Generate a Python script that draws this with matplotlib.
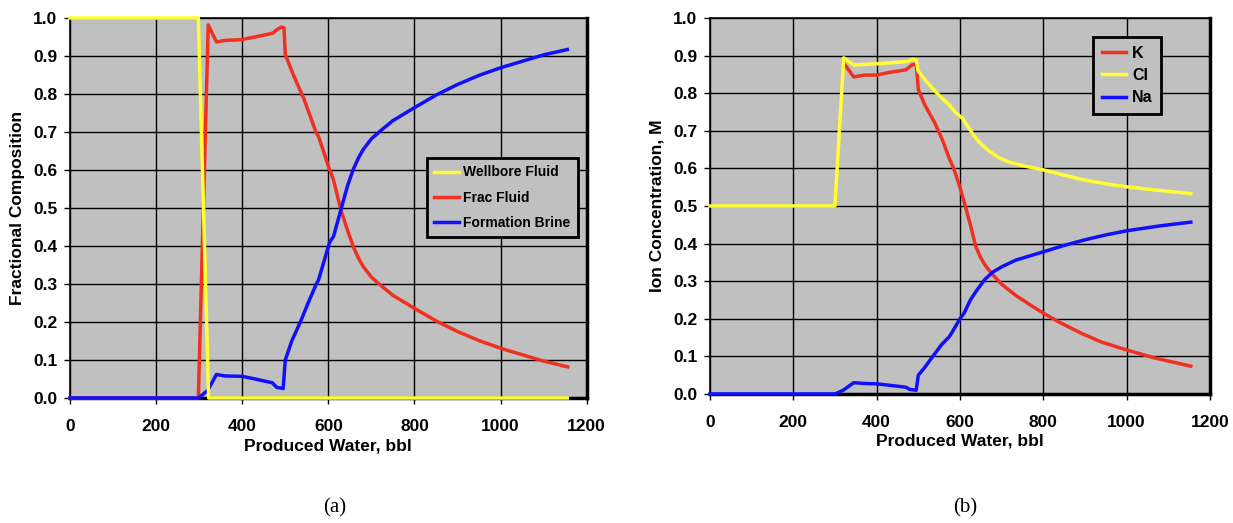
import matplotlib.pyplot as plt

plt.rcParams['font.family'] = ['Liberation Sans', 'DejaVu Sans']

# (a) fractional composition vs produced water
wb_x = [0, 298, 322, 1155]
wb_y = [1.0, 1.0, 0.0, 0.0]

frac_x = [0, 298, 321, 340, 360, 397, 430, 471, 480, 491, 497, 500, 517, 544, 572, 577,
          590, 600, 612, 629, 645, 658, 670, 681, 700, 720, 750, 800, 850, 900, 950, 1000,
          1050, 1100, 1156]
frac_y = [0.0, 0.0, 0.982, 0.937, 0.941, 0.943, 0.950, 0.960, 0.969, 0.976, 0.974, 0.904, 0.855,
          0.785, 0.697, 0.689, 0.645, 0.610, 0.574, 0.495, 0.440, 0.398, 0.368, 0.346, 0.318,
          0.298, 0.270, 0.236, 0.203, 0.175, 0.151, 0.131, 0.114, 0.097, 0.082]

brine_x = [0, 298, 320, 340, 360, 400, 430, 470, 480, 495, 500, 515, 535, 553, 572, 577,
           590, 603, 612, 629, 645, 658, 670, 681, 700, 720, 750, 800, 850, 900, 950, 1000,
           1050, 1100, 1155]
brine_y = [0.0, 0.0, 0.02, 0.062, 0.058, 0.057, 0.050, 0.040, 0.028, 0.025, 0.100, 0.150, 0.200,
           0.250, 0.300, 0.310, 0.360, 0.410, 0.425, 0.495, 0.560, 0.602, 0.632, 0.654, 0.682,
           0.702, 0.730, 0.764, 0.797, 0.825, 0.849, 0.869, 0.886, 0.903, 0.917]

# (b) ion concentrations
cl_x = [0, 300, 321, 345, 400, 450, 473, 485, 495, 500, 520, 545, 565, 574, 590, 606, 615,
        630, 642, 655, 670, 694, 720, 760, 800, 850, 894, 950, 1000, 1080, 1154]
cl_y = [0.5, 0.5, 0.894, 0.875, 0.878, 0.882, 0.884, 0.890, 0.888, 0.858, 0.830, 0.800, 0.778,
        0.769, 0.748, 0.733, 0.718, 0.693, 0.675, 0.660, 0.646, 0.628, 0.616, 0.605, 0.596,
        0.582, 0.570, 0.559, 0.551, 0.541, 0.533]

k_x = [321, 345, 370, 400, 430, 470, 485, 495, 500, 515, 540, 560, 574, 585, 600, 610,
       625, 638, 650, 662, 678, 700, 734, 770, 800, 840, 894, 940, 1000, 1070, 1154]
k_y = [0.880, 0.843, 0.848, 0.848, 0.855, 0.862, 0.875, 0.878, 0.810, 0.770, 0.720, 0.670,
       0.627, 0.600, 0.550, 0.511, 0.450, 0.392, 0.362, 0.340, 0.318, 0.292, 0.262, 0.236,
       0.215, 0.190, 0.160, 0.138, 0.117, 0.095, 0.074]

na_x = [0, 300, 320, 345, 370, 400, 440, 470, 480, 495, 500, 515, 535, 555, 574, 580, 600,
        610, 625, 640, 660, 680, 700, 734, 770, 800, 850, 900, 950, 1000, 1080, 1154]
na_y = [0.0, 0.0, 0.010, 0.030, 0.028, 0.027, 0.022, 0.018, 0.012, 0.010, 0.050, 0.070, 0.100,
        0.130, 0.152, 0.162, 0.200, 0.215, 0.250, 0.275, 0.305, 0.325, 0.338, 0.356, 0.368,
        0.378, 0.395, 0.410, 0.423, 0.434, 0.447, 0.457]

x_ticks = [0, 200, 400, 600, 800, 1000, 1200]
y_ticks = [0.0, 0.1, 0.2, 0.3, 0.4, 0.5, 0.6, 0.7, 0.8, 0.9, 1.0]

RED = '#f03020'
YEL = '#ffff33'
BLU = '#1010ff'
GRAY = '#c0c0c0'


def style_axes(ax, ylabel):
    ax.set_facecolor(GRAY)
    ax.set_xlim(0, 1200)
    ax.set_ylim(0, 1.0)
    ax.set_xticks(x_ticks)
    ax.set_yticks(y_ticks)
    ax.set_yticklabels([f"{v:.1f}" for v in y_ticks])
    ax.grid(True, color='black', lw=1.0)
    ax.set_axisbelow(True)
    for s in ax.spines.values():
        s.set_color('black')
        s.set_linewidth(1.2)
    ax.spines['right'].set_linewidth(2.5)
    ax.spines['bottom'].set_linewidth(2.5)
    ax.tick_params(labelsize=12.5, length=4, width=1, colors='black')
    ax.tick_params(axis='x', pad=11)
    ax.tick_params(axis='y', pad=5)
    for lab in ax.get_xticklabels() + ax.get_yticklabels():
        lab.set_fontweight('bold')
    ax.set_xlabel('Produced Water, bbl', fontsize=12.5, fontweight='bold', labelpad=3)
    ax.set_ylabel(ylabel, fontsize=12.5, fontweight='bold', labelpad=6)


def make_legend(ax, order, anchor, size, hl, tp, ls):
    h, l = ax.get_legend_handles_labels()
    leg = ax.legend([h[i] for i in order], [l[i] for i in order],
                    loc='upper left', bbox_to_anchor=anchor, borderaxespad=0, fontsize=size,
                    frameon=True, fancybox=False, framealpha=1, facecolor=GRAY, edgecolor='black',
                    handlelength=hl, handletextpad=tp, borderpad=0.55, labelspacing=ls)
    leg.get_frame().set_linewidth(2)
    for t in leg.get_texts():
        t.set_fontweight('bold')
    return leg


fig = plt.figure(figsize=(12.33, 5.23), dpi=100)
ax1 = fig.add_axes([0.0568, 0.239, 0.419, 0.7266])
ax2 = fig.add_axes([0.5758, 0.2467, 0.4055, 0.719])

lw = 2.5
ax1.plot(frac_x, frac_y, color=RED, lw=lw, label='Frac Fluid', clip_on=False, zorder=3)
ax1.plot(brine_x, brine_y, color=BLU, lw=lw, label='Formation Brine', clip_on=False, zorder=4)
ax1.plot(wb_x, wb_y, color=YEL, lw=lw, label='Wellbore Fluid', clip_on=False, zorder=5)
style_axes(ax1, 'Fractional Composition')
make_legend(ax1, [2, 0, 1], (0.69, 0.632), 10, 1.8, 0.3, 0.8)

ax2.plot(na_x, na_y, color=BLU, lw=lw, label='Na', clip_on=False, zorder=4)
ax2.plot(k_x, k_y, color=RED, lw=lw, label='K', clip_on=False, zorder=3)
ax2.plot(cl_x, cl_y, color=YEL, lw=lw, label='Cl', clip_on=False, zorder=5)
style_axes(ax2, 'Ion Concentration, M')
make_legend(ax2, [1, 2, 0], (0.766, 0.949), 11.5, 1.5, 0.4, 0.45)

fig.text(335 / 1233, 1 - 508 / 523, '(a)', family='Liberation Serif', fontsize=15,
         ha='center', va='center')
fig.text(965 / 1233, 1 - 508 / 523, '(b)', family='Liberation Serif', fontsize=15,
         ha='center', va='center')

fig.savefig('out.png', dpi=100)
